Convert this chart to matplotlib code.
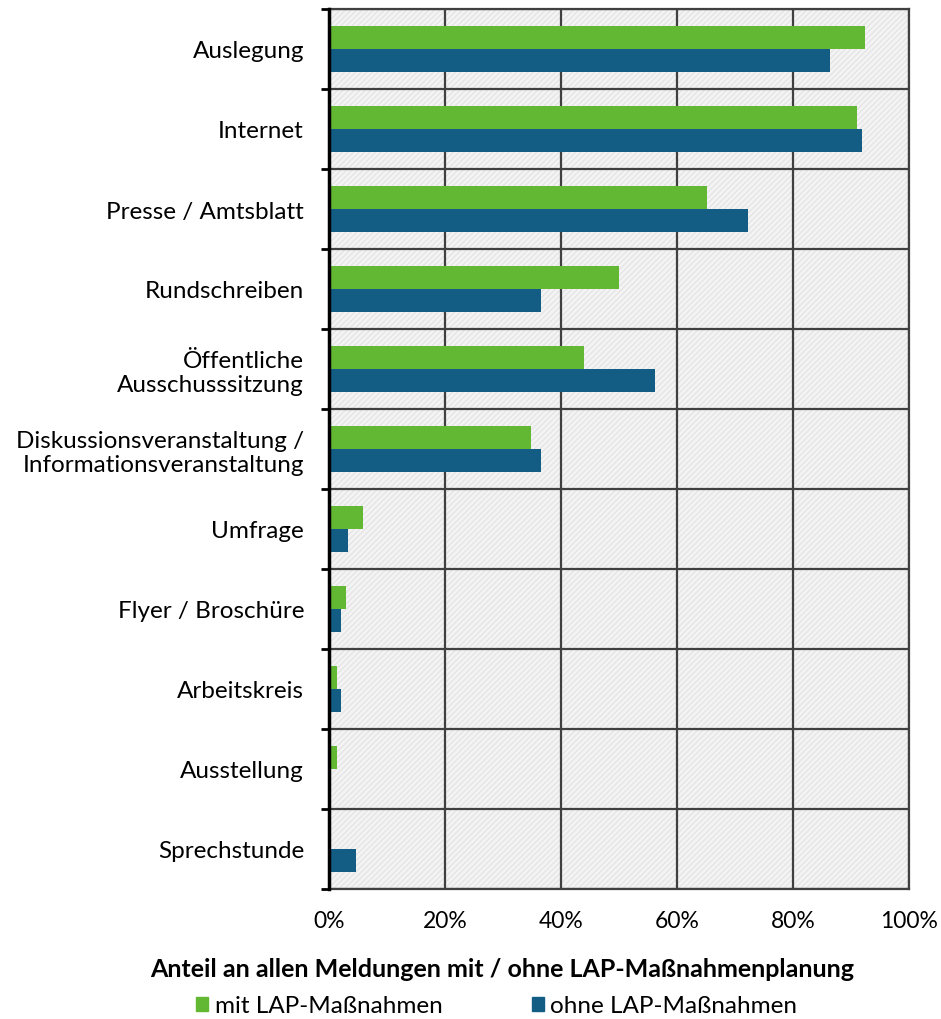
import numpy as np
import matplotlib
matplotlib.use("Agg")
import matplotlib.pyplot as plt
from matplotlib.patches import Rectangle, Patch
from matplotlib.ticker import FixedLocator, PercentFormatter

plt.rcParams['font.family'] = ['Lato', 'DejaVu Sans']
plt.rcParams['hatch.color'] = '#dcdcdc'
plt.rcParams['hatch.linewidth'] = 0.6

categories = ['Auslegung', 'Internet', 'Presse / Amtsblatt', 'Rundschreiben',
              'Öffentliche\nAusschusssitzung',
              'Diskussionsveranstaltung /\nInformationsveranstaltung',
              'Umfrage', 'Flyer / Broschüre', 'Arbeitskreis', 'Ausstellung',
              'Sprechstunde']
mit_lap = [92.4, 91.0, 65.2, 50.0, 44.0, 34.8, 5.9, 2.9, 1.4, 1.4, 0.0]
ohne_lap = [86.4, 91.9, 72.2, 36.6, 56.2, 36.6, 3.3, 2.1, 2.0, 0.0, 4.7]

green = '#62b832'
blue = '#135d85'

fig = plt.figure(figsize=(9.41, 10.2), dpi=100)
ax = fig.add_axes([329 / 941, 1 - 890 / 1020, 580 / 941, 880 / 1020])

y = np.arange(len(categories))
h = 0.29
ax.barh(y - h / 2, mit_lap, height=h, color=green, zorder=3, label='mit LAP-Maßnahmen')
ax.barh(y + h / 2, ohne_lap, height=h, color=blue, zorder=3, label='ohne LAP-Maßnahmen')

ax.set_xlim(0, 100)
ax.set_ylim(len(categories) - 0.5, -0.5)

# hatched background
ax.set_facecolor('#f3f3f3')
ax.add_patch(Rectangle((0, -0.5), 100, len(categories), facecolor='none',
                       hatch='//////', edgecolor='#dedede', linewidth=0, zorder=0))

ax.set_yticks(y)
ax.set_yticklabels(categories, fontsize=17.5)
ax.yaxis.set_minor_locator(FixedLocator(np.arange(-0.5, len(categories), 1)))
ax.tick_params(axis='y', which='major', length=0, pad=18)
ax.tick_params(axis='y', which='minor', length=6, width=2, color='black', direction='out')

ax.set_xticks(np.arange(0, 101, 20))
ax.xaxis.set_major_formatter(PercentFormatter(decimals=0))
ax.tick_params(axis='x', length=0, labelsize=16.5, pad=15)

ax.grid(axis='x', which='major', color='#404040', linewidth=1.6, zorder=1)
ax.grid(axis='y', which='minor', color='#404040', linewidth=1.6, zorder=1)

for s in ['top', 'right', 'bottom']:
    ax.spines[s].set_color('#404040')
    ax.spines[s].set_linewidth(1.6)
ax.spines['left'].set_color('black')
ax.spines['left'].set_linewidth(2.5)
ax.spines['left'].set_zorder(4)

ax.set_xlabel('Anteil an allen Meldungen mit / ohne LAP-Maßnahmenplanung',
              fontsize=18, fontweight='bold')
ax.xaxis.set_label_coords(0.299, -0.077)

handles = [Patch(color=green, label='mit LAP-Maßnahmen'),
           Patch(color=blue, label='ohne LAP-Maßnahmen')]
fig.legend(handles=handles, loc='center', bbox_to_anchor=(0.528, 0.013), ncol=2,
           frameon=False, fontsize=17.5, handlelength=0.5, handleheight=0.5,
           handletextpad=0.25, columnspacing=3.7, borderpad=0)

fig.savefig('out.png', dpi=100)
